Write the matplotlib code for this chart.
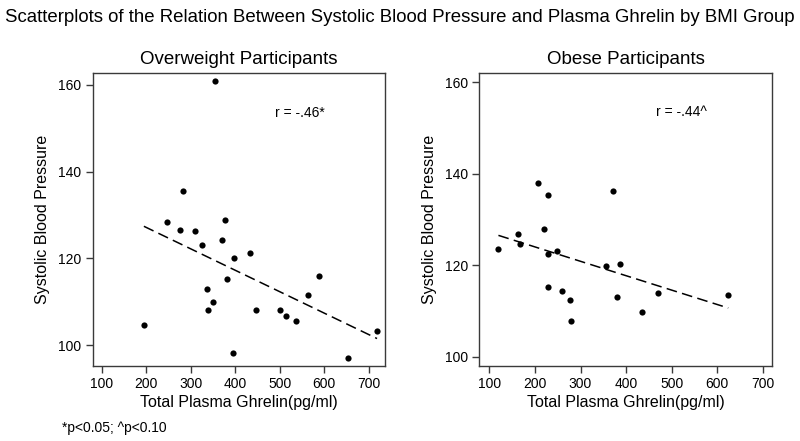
import numpy as np
import matplotlib
matplotlib.use("Agg")
import matplotlib.pyplot as plt

plt.rcParams['font.family'] = ['Liberation Sans', 'DejaVu Sans']

# Overweight participants
ow_ghrelin = [355, 283, 248, 276, 310, 377, 370, 326, 398, 433, 381, 336, 350, 338,
              448, 502, 514, 538, 564, 589, 195, 396, 654, 719]
ow_sbp = [160.8, 135.6, 128.3, 126.5, 126.2, 128.9, 124.3, 123.0, 120.0, 121.2, 115.2,
          112.9, 109.9, 108.0, 108.0, 108.0, 106.6, 105.6, 111.6, 116.0, 104.6, 98.2, 97.0, 103.2]

# Obese participants
ob_ghrelin = [120, 164, 168, 206, 229, 219, 229, 249, 228, 260, 278, 279, 355, 371,
              386, 380, 435, 470, 624]
ob_sbp = [123.5, 126.9, 124.7, 137.9, 135.3, 127.9, 122.4, 123.2, 115.2, 114.3, 112.5,
          107.9, 119.8, 136.3, 120.2, 113.1, 109.9, 113.9, 113.6]

panel_titles = ["Overweight Participants", "Obese Participants"]
r_labels = ["r = -.46*", "r = -.44^"]
xticks = [100, 200, 300, 400, 500, 600, 700]
yticks = [100, 120, 140, 160]

fig = plt.figure(figsize=(8.0, 4.41), dpi=100)
fig.text(0.5, 0.96, "Scatterplots of the Relation Between Systolic Blood Pressure and Plasma Ghrelin by BMI Group",
         ha='center', va='center', fontsize=13.4)

positions = [[0.1159, 0.1712, 0.3654, 0.664], [0.5991, 0.170, 0.3659, 0.665]]
xlims = [(80, 737), (78, 720)]
ylims = [(95.3, 162.8), (98.0, 162.1)]
r_pos = [(0.624, 0.862), (0.604, 0.867)]
data = [(ow_ghrelin, ow_sbp), (ob_ghrelin, ob_sbp)]

spine_c = '#3a3a3a'
for i in range(2):
    ax = fig.add_axes(positions[i])
    x = np.array(data[i][0], dtype=float)
    y = np.array(data[i][1], dtype=float)
    ax.scatter(x, y, s=20, color='black', zorder=3, linewidths=0)
    b, a = np.polyfit(x, y, 1)
    xs = np.array([x.min(), x.max()])
    ax.plot(xs, a + b * xs, color='black', lw=1.1, dashes=(7, 3.5))
    ax.set_xlim(*xlims[i])
    ax.set_ylim(*ylims[i])
    ax.set_xticks(xticks)
    ax.set_yticks(yticks)
    ax.tick_params(direction='out', length=5, width=1, color=spine_c, labelsize=10, pad=3)
    for sp in ax.spines.values():
        sp.set_color(spine_c)
        sp.set_linewidth(1)
    ax.set_title(panel_titles[i], fontsize=13.5, pad=6)
    ax.set_xlabel("Total Plasma Ghrelin(pg/ml)", fontsize=11.5, labelpad=3)
    ax.set_ylabel("Systolic Blood Pressure", fontsize=11.5, labelpad=6)
    ax.text(r_pos[i][0], r_pos[i][1], r_labels[i], transform=ax.transAxes,
            ha='left', va='center', fontsize=10)

fig.text(62 / 800, 1 - 428 / 441, "*p<0.05; ^p<0.10", ha='left', va='center', fontsize=10)

fig.savefig("out.png", dpi=100)
